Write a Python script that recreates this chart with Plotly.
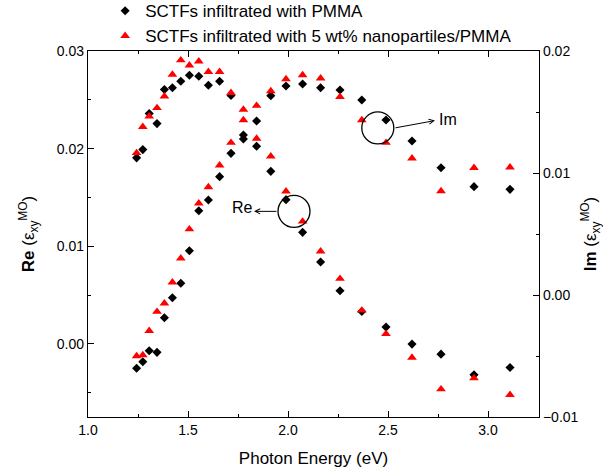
import plotly.graph_objects as go

# Photon energies (eV)
energy = [1.243, 1.274, 1.306, 1.345, 1.382, 1.422, 1.464, 1.507, 1.554, 1.602,
          1.658, 1.715, 1.777, 1.843, 1.914, 1.990, 2.073, 2.163, 2.260, 2.369,
          2.490, 2.620, 2.765, 2.930, 3.110]

# SCTFs infiltrated with PMMA
re_pmma = [0.01905, 0.01990, 0.02359, 0.02256, 0.02605, 0.02623, 0.02690, 0.02752, 0.02742, 0.02649,
           0.02690, 0.02544, 0.02099, 0.02024, 0.01767, 0.01477, 0.01142, 0.00838, 0.00544, 0.00331,
           0.00171, -0.00003, -0.00106, -0.00318, -0.00243]
im_pmma = [-0.00601, -0.00547, -0.00457, -0.00470, -0.00186, -0.00022, 0.00096, 0.00363, 0.00691, 0.00779,
           0.00970, 0.01161, 0.01311, 0.01426, 0.01634, 0.01713, 0.01730, 0.01699, 0.01680, 0.01598,
           0.01434, 0.01262, 0.01043, 0.00888, 0.00866]

# SCTFs infiltrated with 5 wt% nanoparticles/PMMA
re_np = [0.01956, 0.02223, 0.02331, 0.02417, 0.02536, 0.02759, 0.02906, 0.02854, 0.02895, 0.02787,
         0.02787, 0.02571, 0.02400, 0.02103, 0.01921, 0.01562, 0.01254, 0.00947, 0.00667, 0.00342,
         0.00103, -0.00141, -0.00465, -0.00352, -0.00523]
im_np = [-0.00500, -0.00492, -0.00293, -0.00137, -0.00068, 0.00104, 0.00301, 0.00539, 0.00752, 0.00885,
         0.01063, 0.01248, 0.01434, 0.01552, 0.01672, 0.01770, 0.01803, 0.01776, 0.01625, 0.01434,
         0.01248, 0.01120, 0.00852, 0.01043, 0.01047]

legend_names = ["SCTFs infiltrated with PMMA", "SCTFs infiltrated with 5 wt% nanopartiles/PMMA"]

FONT = "Liberation Sans, Arial, sans-serif"

fig = go.Figure()
dia = dict(symbol="diamond", color="black", size=7)
tri = dict(symbol="triangle-up", color="red", size=8.5)

fig.add_trace(go.Scatter(x=energy, y=re_pmma, mode="markers", marker=dia, name=legend_names[0],
                         legendgroup="a", yaxis="y"))
fig.add_trace(go.Scatter(x=energy, y=re_np, mode="markers", marker=tri, name=legend_names[1],
                         legendgroup="b", yaxis="y"))
fig.add_trace(go.Scatter(x=energy, y=im_pmma, mode="markers", marker=dia, name=legend_names[0],
                         legendgroup="a", showlegend=False, yaxis="y2"))
fig.add_trace(go.Scatter(x=energy, y=im_np, mode="markers", marker=tri, name=legend_names[1],
                         legendgroup="b", showlegend=False, yaxis="y2"))

# circles and arrows (in data coordinates of x / left y axis)
re_circle = (2.03, 0.01357)
im_circle = (2.449, 0.02212)
rx, ry = 0.08, 0.00164
for cx, cy in (re_circle, im_circle):
    fig.add_shape(type="circle", xref="x", yref="y", x0=cx - rx, x1=cx + rx, y0=cy - ry, y1=cy + ry,
                  line=dict(color="black", width=1.3))

fig.add_annotation(x=1.83, y=0.01357, ax=1.95, ay=0.01357, xref="x", yref="y", axref="x", ayref="y",
                   text="", showarrow=True, arrowhead=5, arrowsize=1, arrowwidth=1, arrowcolor="black")
fig.add_annotation(x=1.77, y=0.01395, xref="x", yref="y", text="Re", showarrow=False,
                   font=dict(size=16, color="black", family=FONT))
fig.add_annotation(x=2.735, y=0.02287, ax=2.53, ay=0.0221, xref="x", yref="y", axref="x", ayref="y",
                   text="", showarrow=True, arrowhead=5, arrowsize=1, arrowwidth=1, arrowcolor="black")
fig.add_annotation(x=2.745, y=0.02297, xref="x", yref="y", text="Im", showarrow=False, xanchor="left",
                   font=dict(size=16, color="black", family=FONT))

axis_common = dict(showline=True, linecolor="black", linewidth=1.3, ticks="inside", ticklen=6,
                   tickcolor="black", tickwidth=1.2, showgrid=False, zeroline=False,
                   tickfont=dict(size=14, color="black", family=FONT))

fig.update_layout(
    width=603, height=474,
    margin=dict(l=88, r=64, t=51, b=57, autoexpand=False),
    paper_bgcolor="white", plot_bgcolor="white",
    font=dict(family=FONT, color="black"),
    showlegend=True,
    legend=dict(x=0.038, y=1.158, xanchor="left", yanchor="top", bgcolor="rgba(0,0,0,0)",
                font=dict(size=17, color="black", family=FONT), tracegroupgap=0),
    xaxis=dict(range=[1.0, 3.255], dtick=0.5, tick0=1.0, tickformat=".1f", mirror="ticks",
               minor=dict(dtick=0.25, ticks="inside", ticklen=3, tickcolor="black"),
               title=dict(text="Photon Energy (eV)", font=dict(size=17, family=FONT), standoff=15),
               **axis_common),
    yaxis=dict(range=[-0.0075, 0.03], dtick=0.01, tickformat=".2f",
               minor=dict(dtick=0.005, ticks="inside", ticklen=3, tickcolor="black"),
               title=dict(text="<b>Re</b> (ε<sub>xy</sub><sup>MO</sup>)", font=dict(size=17, family=FONT),
                          standoff=17),
               **axis_common),
    yaxis2=dict(range=[-0.01, 0.02], dtick=0.01, tickformat=".2f", overlaying="y", side="right",
                minor=dict(dtick=0.005, ticks="inside", ticklen=3, tickcolor="black"),
                title=dict(text="<b>Im</b> (ε<sub>xy</sub><sup>MO</sup>)", font=dict(size=17, family=FONT),
                           standoff=6),
                **axis_common),
)

fig.write_html("out.html")
